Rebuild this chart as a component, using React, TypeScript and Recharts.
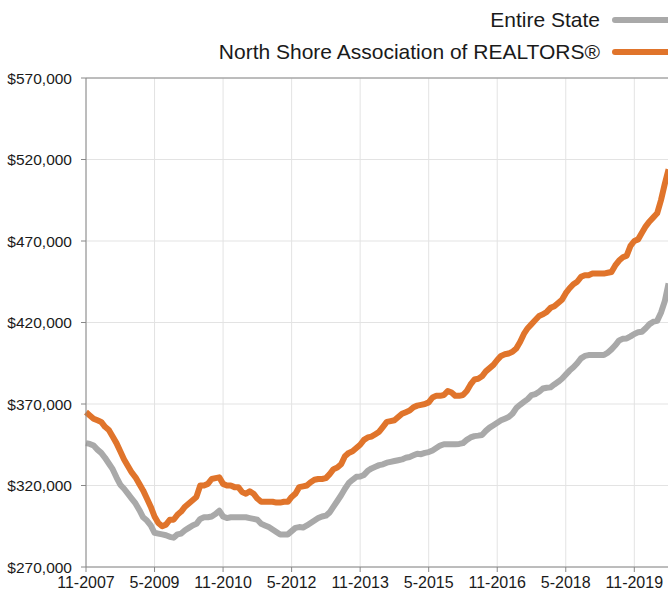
import React from 'react';
import { LineChart, Line, XAxis, YAxis, CartesianGrid, Legend, ReferenceLine } from 'recharts';

// monthly median price, $k, starting 11-2007
const northShore = [
  365, 363, 361, 360, 359, 356, 354, 350, 346, 341, 336, 332, 328, 325, 321, 317, 312, 307, 301, 297,
  295, 296, 299, 299, 302, 304, 307, 309, 311, 313, 320, 320, 321, 324, 324.5, 325, 321, 320, 320, 319,
  319, 316, 315, 316.5, 315, 312, 310, 310, 310, 310, 309.5, 309.5, 310, 310, 313, 315, 319, 319.5, 320, 322,
  323.5, 324, 324, 324.5, 327, 330, 331, 333, 338, 340, 341, 343, 345, 348, 349.5, 350, 351.5, 353, 356, 359,
  359.5, 360, 362, 364, 365, 366, 368, 369, 369.5, 370, 371, 374, 375, 375, 375.5, 378, 377, 375, 375, 375.5,
  378, 382, 385, 385.5, 387, 390, 392, 394, 397, 399.5, 400.5, 401, 402, 404, 408, 413, 416.5, 419, 421.5, 424,
  425, 426.5, 429, 430, 432, 434, 438, 441, 443.5, 445, 448, 449, 449, 450, 450, 450, 450, 450.5, 451, 455,
  458, 460, 461, 467, 470, 471, 475, 479, 482, 484.5, 487, 495, 505, 514,
];

const entireState = [
  346, 345.5, 344.5, 342, 340, 337, 333.5, 330, 325, 320.5, 318, 315, 312, 309, 305, 300.5, 298.5, 295.5, 291, 290.5,
  290, 289.5, 288.5, 288, 290, 290.5, 292.5, 294, 295.5, 296.5, 299.5, 300.5, 300.5, 301, 302.5, 304.5, 301, 300, 300.5, 300.5,
  300.5, 300.5, 300.5, 300, 299.5, 299, 296.5, 295.5, 294.5, 293, 291.5, 290, 290, 290, 292, 294, 294.5, 294.2, 295.5, 297,
  298.5, 300, 301, 301.5, 303.5, 307, 310.5, 314, 318, 321.5, 323.5, 325.3, 325.5, 326.5, 329, 330.5, 331.5, 332.5, 333, 334,
  334.5, 335, 335.5, 336, 337, 337.5, 338.5, 339.5, 339.2, 340, 340.5, 341.5, 343, 344.5, 345.3, 345.3, 345.3, 345.3, 345.5, 346,
  348, 349.5, 350.3, 350.6, 351, 353.5, 355.5, 357, 358.5, 360, 361, 362, 364, 367.5, 369.5, 371.3, 373, 375.4, 376.1, 377.5,
  379.5, 380, 380.2, 382, 383.6, 385.5, 388, 390.5, 392.5, 395, 398, 399.5, 400, 400, 400, 400, 400, 401.5, 403.5, 406,
  409, 410, 410.2, 411.5, 413, 414, 414.3, 416.5, 419, 420.5, 421, 426, 433, 444,
];

const xTickLabels = ['11-2007', '5-2009', '11-2010', '5-2012', '11-2013', '5-2015', '11-2016', '5-2018', '11-2019'];
const yTicks = [270000, 320000, 370000, 420000, 470000, 520000, 570000];

const data = northShore.map((v, i) => ({ m: i, shore: v * 1000, state: entireState[i] * 1000 }));

const FONT = '"Liberation Sans", Arial, Helvetica, sans-serif';
const ORANGE = '#E0742B';
const GRAY = '#A9A9A9';

const legendItems = [
  { label: 'Entire State', color: GRAY },
  { label: 'North Shore Association of REALTORS®', color: ORANGE },
];

// legend is drawn as html; its 64px height is added to the top margin by recharts
const renderLegend = () => (
  <div style={{ fontFamily: FONT, fontSize: 21, color: '#1a1a1a' }}>
    {legendItems.map((it) => (
      <div key={it.label} style={{ display: 'flex', justifyContent: 'flex-end', alignItems: 'center', height: 32 }}>
        <span>{it.label}</span>
        <svg width={60} height={10} style={{ marginLeft: 12 }}>
          <line x1={3} y1={5} x2={60} y2={5} stroke={it.color} strokeWidth={6} strokeLinecap="round" />
        </svg>
      </div>
    ))}
  </div>
);

export default function App() {
  return (
    <div style={{ position: 'fixed', left: 0, top: 0, width: 668, height: 592, overflow: 'hidden', background: '#fff' }}>
      <LineChart width={700} height={592} data={data} margin={{ top: 14, right: 20, left: 0, bottom: 0 }}>
        <CartesianGrid stroke="#e3e3e3" strokeWidth={1} />
        <XAxis
          dataKey="m"
          type="number"
          domain={[0, 156]}
          ticks={[0, 18, 36, 54, 72, 90, 108, 126, 144]}
          tickFormatter={(v) => xTickLabels[v / 18]}
          height={25}
          stroke="#888"
          tickSize={5}
          tickMargin={5}
          tick={{ fontSize: 16, fill: '#1a1a1a', fontFamily: FONT }}
        />
        <YAxis
          type="number"
          domain={[270000, 570000]}
          ticks={yTicks}
          width={86}
          stroke="#888"
          tickSize={5}
          tickMargin={9}
          tick={{ fontSize: 15.5, fill: '#1a1a1a', fontFamily: FONT }}
          tickFormatter={(v) => '$' + v.toLocaleString('en-US')}
        />
        <ReferenceLine y={570000} stroke="#888" />
        <Legend verticalAlign="top" content={renderLegend} wrapperStyle={{ top: 4, left: 0, width: 672 }} />
        <Line
          type="linear"
          dataKey="state"
          stroke={GRAY}
          strokeWidth={6}
          dot={false}
          strokeLinejoin="round"
          isAnimationActive={false}
        />
        <Line
          type="linear"
          dataKey="shore"
          stroke={ORANGE}
          strokeWidth={6}
          dot={false}
          strokeLinejoin="round"
          isAnimationActive={false}
        />
      </LineChart>
    </div>
  );
}
